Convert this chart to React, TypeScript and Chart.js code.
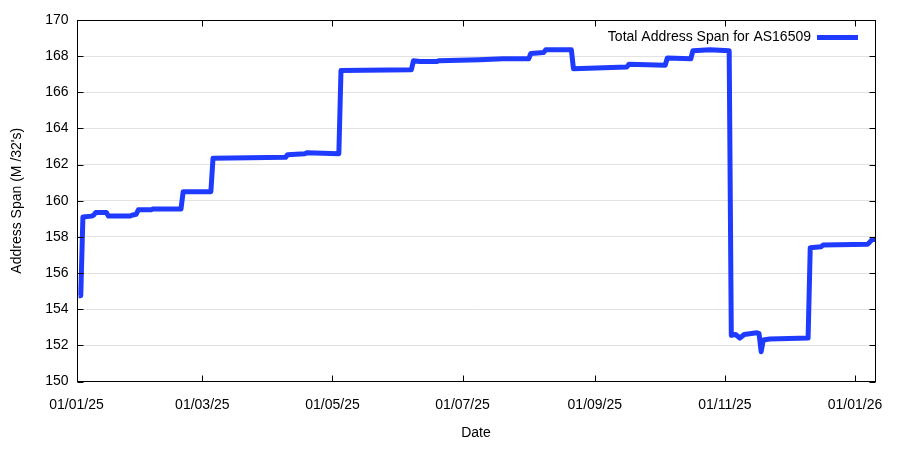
import React, { useEffect, useRef } from "react";
import { Chart, registerables } from "chart.js";

Chart.register(...registerables);

// ---- data ----
const seriesLabel = "Total Address Span for AS16509";
const startDate = "2025-01-01";
const xMaxDays = 374.6;

const dates: string[] = [
  "2025-01-02", "2025-01-03", "2025-01-04", "2025-01-08", "2025-01-09", "2025-01-10",
  "2025-01-15", "2025-01-16", "2025-01-26", "2025-01-27", "2025-01-29", "2025-01-30",
  "2025-02-05", "2025-02-06", "2025-02-19", "2025-02-20", "2025-03-05", "2025-03-06",
  "2025-04-09", "2025-04-10", "2025-04-18", "2025-04-19", "2025-05-04", "2025-05-05",
  "2025-06-07", "2025-06-08", "2025-06-11", "2025-06-19", "2025-06-20", "2025-07-09",
  "2025-07-20", "2025-08-01", "2025-08-02", "2025-08-08", "2025-08-09", "2025-08-21",
  "2025-08-22", "2025-09-16", "2025-09-17", "2025-10-04", "2025-10-05", "2025-10-16",
  "2025-10-17", "2025-10-25", "2025-11-03", "2025-11-04", "2025-11-06", "2025-11-08",
  "2025-11-10", "2025-11-16", "2025-11-17", "2025-11-18", "2025-11-19", "2025-11-22",
  "2025-12-10", "2025-12-11", "2025-12-16", "2025-12-17", "2026-01-07", "2026-01-09",
  "2026-01-11",
];

const spans: number[] = [
  154.75, 154.75, 159.1, 159.15, 159.2, 159.35,
  159.35, 159.15, 159.15, 159.2, 159.25, 159.5,
  159.5, 159.55, 159.55, 160.5, 160.5, 162.35,
  162.4, 162.55, 162.6, 162.65, 162.6, 167.2,
  167.25, 167.75, 167.7, 167.7, 167.75, 167.8,
  167.85, 167.85, 168.15, 168.2, 168.35, 168.35,
  167.3, 167.4, 167.55, 167.5, 167.9, 167.85,
  168.3, 168.35, 168.3, 152.55, 152.6, 152.4,
  152.6, 152.7, 152.65, 151.65, 152.3, 152.35,
  152.4, 157.4, 157.45, 157.55, 157.6, 157.85,
  157.85,
];

const tickDates: string[] = [
  "2025-01-01", "2025-03-01", "2025-05-01", "2025-07-01",
  "2025-09-01", "2025-11-01", "2026-01-01",
];
const tickLabels: string[] = [
  "01/01/25", "01/03/25", "01/05/25", "01/07/25", "01/09/25", "01/11/25", "01/01/26",
];

const yMin = 150;
const yMax = 170;
const yStep = 2;

// ---- helpers ----
function dayOffset(d: string): number {
  const [y, m, dd] = d.split("-").map(Number);
  const [y0, m0, d0] = startDate.split("-").map(Number);
  return (Date.UTC(y, m - 1, dd) - Date.UTC(y0, m0 - 1, d0)) / 86400000;
}

const FONT = '"Liberation Sans", Arial, Helvetica, sans-serif';
const LINE_COLOR = "#1f3bff";

const framePlugin = {
  id: "gnuFrame",
  afterDatasetsDraw(chart: any) {
    const { ctx, chartArea: a, scales } = chart;
    ctx.save();
    ctx.strokeStyle = "#000";
    ctx.lineWidth = 1;
    const L = Math.round(a.left) + 0.5;
    const R = Math.round(a.right) - 0.5;
    const T = Math.round(a.top) + 0.5;
    const B = Math.round(a.bottom) - 0.5;
    ctx.strokeRect(L, T, R - L, B - T);
    const tl = 6;
    ctx.beginPath();
    for (const t of scales.y.ticks) {
      const py = Math.round(scales.y.getPixelForValue(t.value)) + 0.5;
      ctx.moveTo(L, py);
      ctx.lineTo(L + tl, py);
      ctx.moveTo(R, py);
      ctx.lineTo(R - tl, py);
    }
    for (const t of scales.x.ticks) {
      const px = Math.round(scales.x.getPixelForValue(t.value)) + 0.5;
      ctx.moveTo(px, B);
      ctx.lineTo(px, B - tl);
      ctx.moveTo(px, T);
      ctx.lineTo(px, T + tl);
    }
    ctx.stroke();

    // legend (text left of sample line, gnuplot style)
    const ds = chart.data.datasets[0];
    const ly = a.top + 17.5;
    const lineEnd = a.right - 17.5;
    const lineStart = lineEnd - 41;
    ctx.font = `14px ${FONT}`;
    ctx.fillStyle = "#000";
    ctx.textAlign = "right";
    ctx.textBaseline = "middle";
    ctx.fillText(ds.label, lineStart - 6, ly);
    ctx.strokeStyle = ds.borderColor;
    ctx.lineWidth = 5;
    ctx.beginPath();
    ctx.moveTo(lineStart, ly);
    ctx.lineTo(lineEnd, ly);
    ctx.stroke();
    ctx.restore();
  },
};

export default function App() {
  const canvasRef = useRef<HTMLCanvasElement | null>(null);

  useEffect(() => {
    document.body.style.margin = "0";
    const canvas = canvasRef.current;
    if (!canvas) return;
    const points = dates.map((d, i) => ({ x: dayOffset(d), y: spans[i] }));
    const tickValues = tickDates.map(dayOffset);

    const chart = new Chart(canvas, {
      type: "line",
      data: {
        datasets: [
          {
            label: seriesLabel,
            data: points,
            borderColor: LINE_COLOR,
            backgroundColor: LINE_COLOR,
            borderWidth: 5,
            pointRadius: 0,
            tension: 0,
            fill: false,
            borderJoinStyle: "round",
            borderCapStyle: "butt",
          },
        ],
      },
      options: {
        animation: false,
        responsive: false,
        devicePixelRatio: 1,
        layout: { padding: { top: 20, right: 24.5, left: 0, bottom: 0 } },
        plugins: {
          legend: { display: false },
          tooltip: { enabled: false },
        },
        font: { family: FONT },
        scales: {
          x: {
            type: "linear",
            min: 0,
            max: xMaxDays,
            afterBuildTicks: (scale: any) => {
              scale.ticks = tickValues.map((v) => ({ value: v }));
            },
            afterFit: (scale: any) => {
              scale.height = 68.5;
            },
            grid: { display: false, drawTicks: false },
            border: { display: false },
            ticks: {
              autoSkip: false,
              maxRotation: 0,
              padding: 15,
              color: "#000",
              font: { size: 14, family: FONT },
              callback: (_v: any, i: number) => tickLabels[i],
            },
            title: {
              display: true,
              text: "Date",
              color: "#000",
              font: { size: 14, family: FONT },
              padding: { top: 0, bottom: 8.6 },
            },
          },
          y: {
            min: yMin,
            max: yMax,
            afterFit: (scale: any) => {
              scale.width = 76.5;
            },
            grid: { color: "#e2e2e2", lineWidth: 1, drawTicks: false },
            border: { display: false },
            ticks: {
              stepSize: yStep,
              padding: 8,
              color: "#000",
              font: { size: 14, family: FONT },
            },
            title: {
              display: true,
              text: "Address Span (M /32's)",
              color: "#000",
              font: { size: 14, family: FONT },
              padding: { top: 8.6, bottom: 0 },
            },
          },
        },
      } as any,
      plugins: [framePlugin],
    });
    return () => chart.destroy();
  }, []);

  return (
    <div style={{ width: 900, height: 450, background: "#fff" }}>
      <canvas ref={canvasRef} width={900} height={450} style={{ width: 900, height: 450, display: "block" }} />
    </div>
  );
}
